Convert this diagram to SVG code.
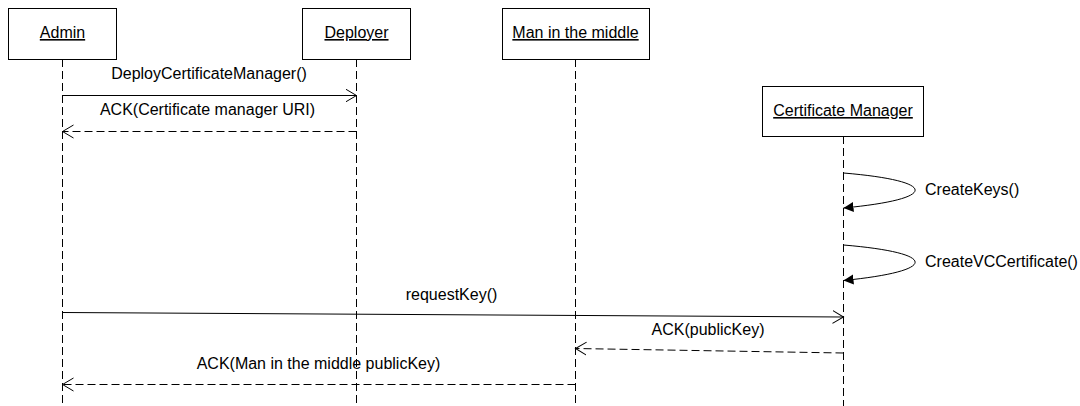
<svg xmlns="http://www.w3.org/2000/svg" width="1080" height="406" viewBox="0 0 1080 406">
<style>
.box{fill:#fff;stroke:#000;stroke-width:1}
.title{font-family:"Liberation Sans",Arial,sans-serif;font-size:16px;fill:#000;text-anchor:middle;text-decoration:underline}
.lbl{font-family:"Liberation Sans",Arial,sans-serif;font-size:16px;fill:#000}
.life{stroke:#000;stroke-width:1;stroke-dasharray:8,4;fill:none}
.msg{stroke:#000;stroke-width:1;fill:none}
.ret{stroke:#000;stroke-width:1;fill:none;stroke-dasharray:8,4}
</style>
<defs>
<marker id="open" markerUnits="userSpaceOnUse" markerWidth="14" markerHeight="16" refX="11" refY="7" orient="auto">
<path d="M0,0.5 L11,7 L0,13.5" fill="none" stroke="#000" stroke-width="1"/>
</marker>
<marker id="filled" markerUnits="userSpaceOnUse" markerWidth="12" markerHeight="12" refX="10" refY="5" orient="auto">
<path d="M0,0 L10,5 L0,10 Z" fill="#000"/>
</marker>
</defs>
<rect width="1080" height="406" fill="#fff"/>
<g id="lifelines">
<line class="life" x1="62.5" y1="59" x2="62.5" y2="406"/>
<line class="life" x1="356.5" y1="59" x2="356.5" y2="406" stroke="#555"/>
<line class="life" x1="575.5" y1="59" x2="575.5" y2="406"/>
<line class="life" x1="843.5" y1="136" x2="843.5" y2="406"/>
</g>
<g id="admin">
<rect class="box" x="8.5" y="8.5" width="108" height="51"/>
<text class="title" x="62.5" y="38">Admin</text>
</g>
<g id="deployer">
<rect class="box" x="302.5" y="8.5" width="108" height="51" stroke="#444"/>
<text class="title" x="356.5" y="38">Deployer</text>
</g>
<g id="mitm">
<rect class="box" x="502.5" y="8.5" width="147" height="51"/>
<text class="title" x="575.5" y="38">Man in the middle</text>
</g>
<g id="certmanager">
<rect class="box" x="762.5" y="86.5" width="161" height="50"/>
<text class="title" x="843" y="116">Certificate Manager</text>
</g>
<g id="connectors">
<line class="msg" x1="62.5" y1="95.5" x2="356.5" y2="95.5" marker-end="url(#open)"/>
<line class="ret" x1="356.5" y1="131.5" x2="62.5" y2="131.5" marker-end="url(#open)"/>
<path class="msg" d="M843.5,173 C939,181 939,199 843.5,208" marker-end="url(#filled)"/>
<path class="msg" d="M843.5,245 C939,253 939,271 843.5,280.5" marker-end="url(#filled)"/>
<line class="msg" x1="62.5" y1="312.5" x2="843.5" y2="317" marker-end="url(#open)"/>
<line class="ret" x1="843.5" y1="353" x2="575.5" y2="348.5" marker-end="url(#open)"/>
<line class="ret" x1="575.5" y1="384.5" x2="62.5" y2="384.5" marker-end="url(#open)"/>
</g>
<g id="labels">
<text class="lbl" x="209" y="79" text-anchor="middle">DeployCertificateManager()</text>
<text class="lbl" x="207.5" y="115" text-anchor="middle">ACK(Certificate manager URI)</text>
<text class="lbl" x="925" y="195">CreateKeys()</text>
<text class="lbl" x="925" y="267">CreateVCCertificate()</text>
<text class="lbl" x="451.5" y="300" text-anchor="middle">requestKey()</text>
<text class="lbl" x="708" y="335" text-anchor="middle">ACK(publicKey)</text>
<text class="lbl" x="318.5" y="369" text-anchor="middle">ACK(Man in the middle publicKey)</text>
</g>
</svg>
